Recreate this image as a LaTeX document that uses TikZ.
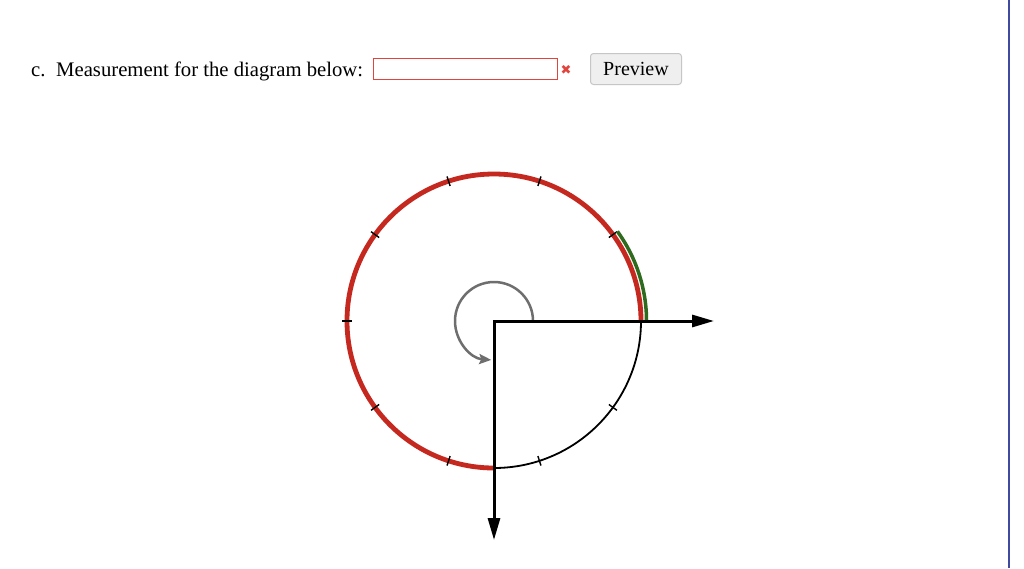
\documentclass[tikz,border=0pt]{standalone}
\usepackage{fontspec}
\setmainfont{Liberation Serif}
\newfontfamily\symfont{DejaVu Sans}
\usetikzlibrary{arrows.meta}
\definecolor{redarc}{HTML}{C4281E}
\definecolor{greenarc}{HTML}{2E6B1F}
\definecolor{grayarc}{HTML}{6E6E6E}
\definecolor{boxred}{HTML}{E0443C}
\definecolor{btnfill}{HTML}{EFEFEF}
\definecolor{btnborder}{HTML}{C6C6C6}
\definecolor{edgeblue}{HTML}{3F4AA0}
\tikzset{
  txt/.style={inner sep=0pt, anchor=base west, font=\fontsize{20.7}{25}\selectfont},
  tick/.style={line width=1.4pt, black},
}
\begin{document}
\begin{tikzpicture}[x=1pt,y=-1pt]
\useasboundingbox (0,0) rectangle (1024,568);
\fill[white] (0,0) rectangle (1024,568);
% right edge line
\coordinate (e1) at (1009,0);
\coordinate (e2) at (1009,568);
\draw[edgeblue, line width=2pt] (e1) -- (e2);
% header
\node[txt] (lblc) at (31,76) {c.};
\node[txt] (lbl) at (56,76) {Measurement for the diagram below:};
\node[draw=boxred, line width=1pt, minimum width=184pt, minimum height=21pt, inner sep=0pt, anchor=north west] (inbox) at (373,58) {};
\node[text=boxred, font=\symfont\fontsize{13}{14}\selectfont, inner sep=0pt] (xmark) at (566,69.5) {✖};
\node[draw=btnborder, fill=btnfill, rounded corners=3pt, line width=1pt, minimum width=91pt, minimum height=31pt, inner sep=0pt, anchor=north west] (btn) at (590,53) {};
\node[font=\fontsize{20}{24}\selectfont, inner sep=0pt] (btntxt) at (btn.center) {Preview};
% circle
\coordinate (O) at (494,321);
\draw[redarc, line width=4.8pt] (O) ++(0:147) arc[start angle=0, end angle=-270, radius=147];
\draw[black, line width=1.8pt] (O) ++(90:147) arc[start angle=90, end angle=0, radius=147];
\foreach \a in {0,36,...,324} {
  \draw[tick] (O) ++(-\a:142) -- ++(-\a:10);
}
\draw[greenarc, line width=3.5pt] (O) ++(0:152.5) arc[start angle=0, end angle=-36, radius=152.5];
% gray rotation arrow
\draw[grayarc, line width=2.5pt, -{Stealth[length=12pt,width=10pt,inset=2pt]}] (O) ++(0:39) arc[start angle=0, end angle=-266, radius=39];
% axes
\coordinate (xt) at (714,321);
\coordinate (yt) at (494,540);
\draw[line width=3pt, line join=miter, {Triangle[length=22pt,width=12pt]}-{Triangle[length=22pt,width=12pt]}] (xt) -- (O) -- (yt);
\end{tikzpicture}
\end{document}
